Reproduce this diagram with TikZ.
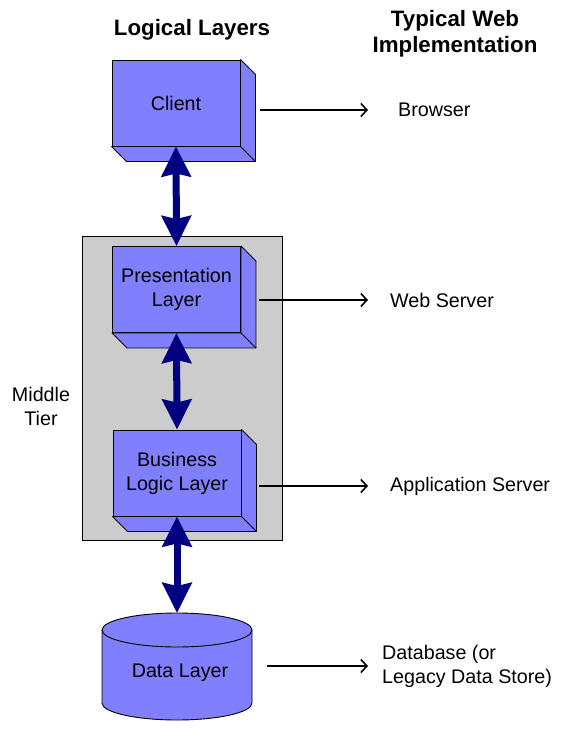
\documentclass[tikz,border=0pt]{standalone}
\usepackage{fontspec}
\setmainfont{Liberation Sans}
\usetikzlibrary{arrows.meta}
\definecolor{slabblue}{RGB}{128,128,255}
\definecolor{tiergray}{RGB}{204,204,204}
\definecolor{linknavy}{RGB}{0,0,128}
\begin{document}
\begin{tikzpicture}[x=1pt, y=-1pt, font=\fontsize{19.7}{24}\selectfont,
  slab/.style={draw, line width=0.9pt, fill=slabblue, minimum width=128pt, minimum height=86pt, align=center, inner sep=0pt},
  face/.style={draw, line width=0.9pt, fill=slabblue, line join=bevel},
  link/.style={draw=linknavy, line width=7pt, {Stealth[length=30pt, width=29pt, inset=3pt]}-{Stealth[length=30pt, width=29pt, inset=3pt]}},
  impl/.style={anchor=west, inner sep=0pt, align=left},
  tolink/.style={line width=1.6pt, -{Straight Barb[length=6pt, width=13pt]}},
  head/.style={font=\fontsize{22.3}{26}\selectfont\bfseries, align=center}]
\useasboundingbox (0,0) rectangle (584,741);
% headings
\node[head] (hdrL) at (192,30) {Logical Layers};
\node[head] (hdrR) at (455,34) {Typical Web\\Implementation};
% middle tier
\node[draw, line width=0.9pt, fill=tiergray, minimum width=200pt, minimum height=304pt, inner sep=0pt] (tier) at (182,388) {};
\node[align=center] (tierlbl) at (41,406) {Middle\\Tier};
% layer boxes
\node[slab] (client) at (176,103) {Client};
\node[slab] (pres) at (176.5,289.5) {Presentation\\Layer};
\node[slab] (biz) at (177,473) {Business\\Logic Layer};
\foreach \n in {client,pres,biz} {
  \filldraw[face] (\n.north east) -- ++(15,15) -- ([shift={(15,15)}]\n.south east) -- ([shift={(15,15)}]\n.south west) -- (\n.south west) -- (\n.south east) -- cycle;
  \draw[line width=0.9pt] (\n.south east) -- ++(15,15); }
% data layer cylinder
\filldraw[face] (102,630) -- (102,703) arc (180:360:75pt and 17pt) -- (252,630) arc (0:180:75pt and 17pt) -- cycle;
\draw[line width=0.9pt] (102,630) arc (180:360:75pt and 17pt);
\coordinate (dbtop) at (177,613);
\coordinate (dbside) at (267,664);
\node (data) at (180,673) {Data Layer};
% links between layers
\draw[link] (client.south) -- (pres.north);
\draw[link] (pres.south) -- (biz.north);
\draw[link] (biz.south) -- (dbtop);
% web implementation
\node[impl] (browser) at (398,110) {Browser};
\node[impl] (websrv) at (390,300) {Web Server};
\node[impl] (appsrv) at (390,486) {Application Server};
\node[impl] (dbimpl) at (382,666) {Database (or\\Legacy Data Store)};
\draw[tolink] ([xshift=20pt]client.east |- browser.west) -- ([xshift=-30pt]browser.west);
\draw[tolink] ([xshift=18pt]pres.east |- websrv.west) -- ([xshift=-22pt]websrv.west);
\draw[tolink] ([xshift=18pt]biz.east |- appsrv.west) -- ([xshift=-22pt]appsrv.west);
\draw[tolink] (dbside |- dbimpl.west) -- ([xshift=-14pt]dbimpl.west);
\end{tikzpicture}
\end{document}
